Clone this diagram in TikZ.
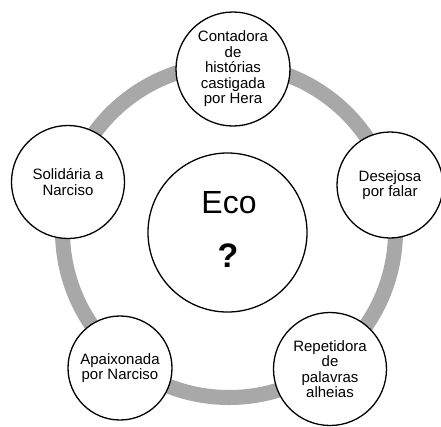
\documentclass[tikz,border=0pt]{standalone}
\usepackage{fontspec}
\setmainfont{Liberation Sans}
\definecolor{ringgray}{RGB}{168,168,168}
\begin{document}
\begin{tikzpicture}[x=1pt,y=-1pt,
  sat/.style={circle, draw=black, line width=1.3pt, fill=white, align=center,
    inner sep=0pt, font=\fontsize{15}{15.5}\selectfont},
  ring/.style={line width=15pt, draw=ringgray},
  bigtxt/.style={inner sep=0pt, font=\fontsize{32}{36}\selectfont},
  qtxt/.style={inner sep=0pt, font=\fontsize{34}{38}\selectfont\bfseries},
]
\useasboundingbox (0,0) rectangle (441,426);
\coordinate (ringc) at (229,231);
\draw[ring] (ringc) circle[radius=166.5];
\node[sat, minimum size=114pt] (top) at (233,69) {Contadora\\de\\histórias\\castigada\\por Hera};
\node[sat, minimum size=106pt] (right) at (390,185) {Desejosa\\por falar};
\node[sat, minimum size=113pt] (left) at (68,182) {Solidária a\\Narciso};
\node[sat, minimum size=104pt] (bl) at (120,368) {Apaixonada\\por Narciso};
\node[sat, minimum size=113pt] (br) at (330,369) {Repetidora\\de\\palavras\\alheias};
\node[sat, minimum size=159pt] (eco) at (227.5,232.5) {};
\node[bigtxt] (ecotxt) at (229,203) {Eco};
\node[qtxt] (q) at (228,256) {?};
\end{tikzpicture}
\end{document}
